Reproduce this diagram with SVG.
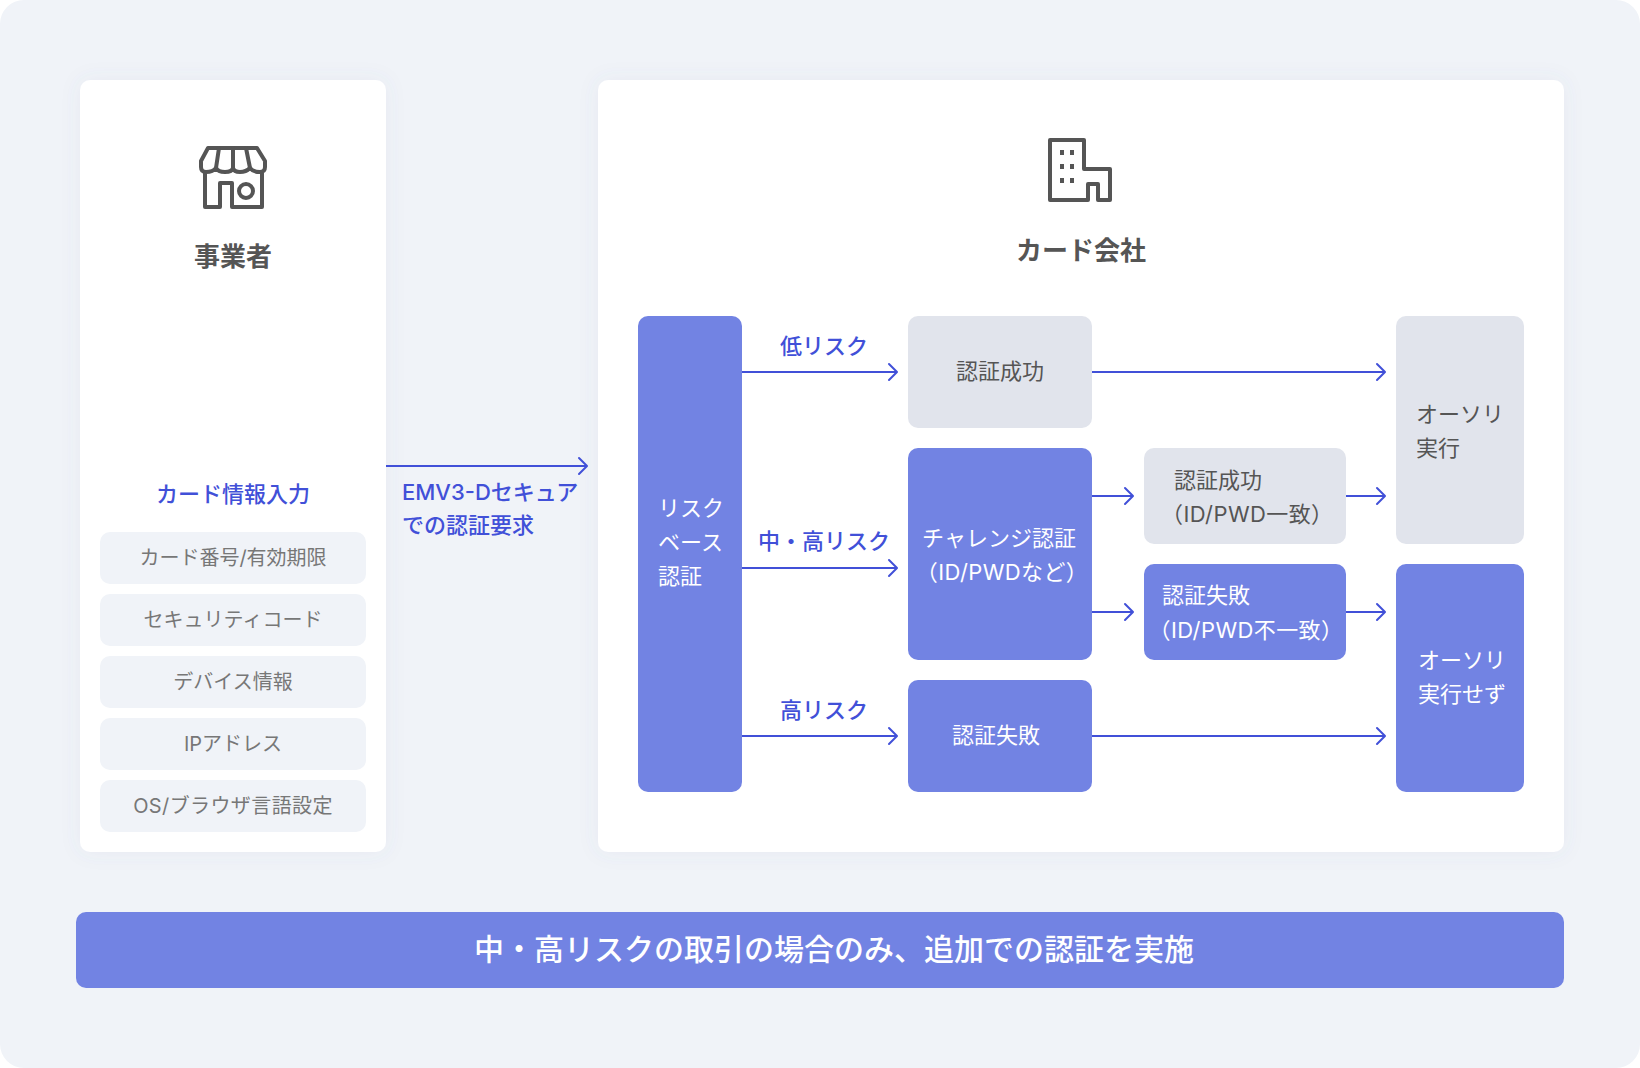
<svg xmlns="http://www.w3.org/2000/svg" width="1640" height="1068" viewBox="0 0 1640 1068">
<style>
text{font-family:"Inter","Noto Sans CJK JP",sans-serif;font-size:22px;font-weight:400;dominant-baseline:central}
.m{text-anchor:middle}
.w{fill:#fff}.d{fill:#555}.b{fill:#4150d8;font-weight:500}.l{fill:#777;font-size:20px}
.t{fill:#555;font-size:26px;font-weight:700}
.x{letter-spacing:.4px}
.p{fill:#7283e3}.g{fill:#e1e4ec}.i{fill:#f0f3f8}
.c{fill:none;stroke:#4150d8;stroke-width:2;marker-end:url(#a)}
.s{fill:none;stroke:#555;stroke-width:4;stroke-linejoin:round;stroke-linecap:round}
</style>
<defs>
<marker id="a" markerUnits="userSpaceOnUse" markerWidth="12" markerHeight="20" refX="10" refY="10" orient="auto" overflow="visible"><path d="M2 2L10 10L2 18" fill="none" stroke="#4150d8" stroke-width="2" stroke-linecap="round" stroke-linejoin="round"/></marker>
<filter id="sh" x="-10%" y="-10%" width="120%" height="120%"><feDropShadow dx="0" dy="0" stdDeviation="10" flood-color="#5a6a90" flood-opacity=".07"/></filter>
</defs>
<rect id="bg" width="1640" height="1068" rx="24" fill="#f0f3f8"/>
<g id="merchant">
<rect x="80" y="80" width="306" height="772" rx="10" fill="#fff" filter="url(#sh)"/>
<g id="store-icon" class="s">
<path d="M208 148H257L265 161V167Q265 172 260 172Q253 172 250 168Q246 172 240 172Q234 172 233 168Q232 172 225 172Q218 172 216 168Q213 172 206 172Q201 172 201 167V161Z"/>
<path d="M219 148L216 168M233 148V168M246 148L250 168"/>
<path d="M205 173V207H220V183H232V207H262V173"/>
<circle cx="246" cy="191" r="7"/>
</g>
<text class="t m" x="233" y="256">事業者</text>
<text class="b m" x="233" y="494">カード情報入力</text>
</g>
<g id="item-1"><rect class="i" x="100" y="532" width="266" height="52" rx="10"/><text class="l m" x="233" y="558">カード番号/有効期限</text></g>
<g id="item-2"><rect class="i" x="100" y="594" width="266" height="52" rx="10"/><text class="l m" x="233" y="620">セキュリティコード</text></g>
<g id="item-3"><rect class="i" x="100" y="656" width="266" height="52" rx="10"/><text class="l m" x="233" y="682">デバイス情報</text></g>
<g id="item-4"><rect class="i" x="100" y="718" width="266" height="52" rx="10"/><text class="l m" x="233" y="744">IPアドレス</text></g>
<g id="item-5"><rect class="i" x="100" y="780" width="266" height="52" rx="10"/><text class="l m x" x="233" y="806">OS/ブラウザ言語設定</text></g>
<g id="card-company">
<rect x="598" y="80" width="966" height="772" rx="10" fill="#fff" filter="url(#sh)"/>
<g id="building-icon">
<path class="s" d="M1050 140H1084V169H1110V200H1098V184H1088V200H1050Z"/>
<path fill="#555" d="M1060 150h4v5h-4zM1070 150h4v5h-4zM1060 164h4v5h-4zM1070 164h4v5h-4zM1060 178h4v5h-4zM1070 178h4v5h-4z"/>
</g>
<text class="t m" x="1081" y="250">カード会社</text>
</g>
<g id="risk"><rect class="p" x="638" y="316" width="104" height="476" rx="10"/><text class="w" x="658" y="508">リスク</text><text class="w" x="658" y="542">ベース</text><text class="w" x="658" y="575.5">認証</text></g>
<g id="ok1"><rect class="g" x="908" y="316" width="184" height="112" rx="10"/><text class="d m" x="1000" y="371">認証成功</text></g>
<g id="challenge"><rect class="p" x="908" y="448" width="184" height="212" rx="10"/><text class="w m" x="999" y="538">チャレンジ認証</text><text class="w m x" x="1002" y="571.5">（ID/PWDなど）</text></g>
<g id="ng1"><rect class="p" x="908" y="680" width="184" height="112" rx="10"/><text class="w m" x="996" y="735">認証失敗</text></g>
<g id="ok2"><rect class="g" x="1144" y="448" width="202" height="96" rx="10"/><text class="d" x="1174" y="479.5">認証成功</text><text class="d x" x="1161" y="514">（ID/PWD一致）</text></g>
<g id="ng2"><rect class="p" x="1144" y="564" width="202" height="96" rx="10"/><text class="w" x="1162" y="595">認証失敗</text><text class="w x" x="1148.500" y="630">（ID/PWD不一致）</text></g>
<g id="auth"><rect class="g" x="1396" y="316" width="128" height="228" rx="10"/><text class="d" x="1416" y="414">オーソリ</text><text class="d" x="1416" y="448">実行</text></g>
<g id="noauth"><rect class="p" x="1396" y="564" width="128" height="228" rx="10"/><text class="w" x="1418" y="660">オーソリ</text><text class="w" x="1418" y="694">実行せず</text></g>
<g id="connectors">
<path class="c" d="M386 466H587"/>
<path class="c" d="M742 372H897"/>
<path class="c" d="M742 568H897"/>
<path class="c" d="M742 736H897"/>
<path class="c" d="M1092 372H1385"/>
<path class="c" d="M1092 496H1133"/>
<path class="c" d="M1092 612H1133"/>
<path class="c" d="M1346 496H1385"/>
<path class="c" d="M1346 612H1385"/>
<path class="c" d="M1092 736H1385"/>
</g>
<g id="labels">
<text class="b" x="402" y="492">EMV3-Dセキュア</text>
<text class="b" x="402" y="525">での認証要求</text>
<text class="b m" x="824" y="346">低リスク</text>
<text class="b m" x="824" y="541">中・高リスク</text>
<text class="b m" x="824" y="710">高リスク</text>
</g>
<g id="banner"><rect class="p" x="76" y="912" width="1488" height="76" rx="10"/><text class="w m" x="834" y="949" style="font-size:30px;font-weight:500">中・高リスクの取引の場合のみ、追加での認証を実施</text></g>
</svg>
